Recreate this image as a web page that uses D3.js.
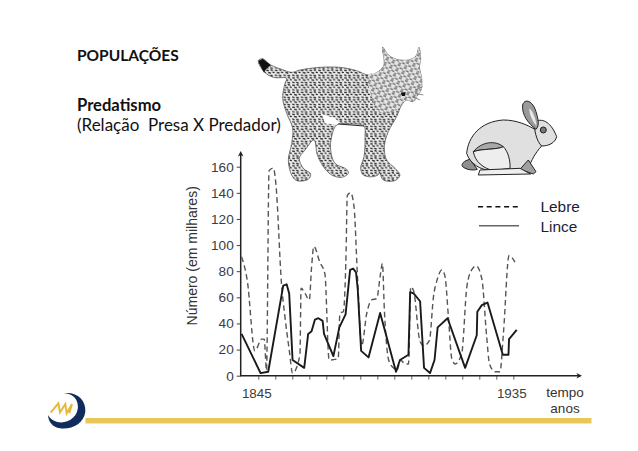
<!DOCTYPE html>
<html>
<head>
<meta charset="utf-8">
<script src="https://cdnjs.cloudflare.com/ajax/libs/d3/7.8.5/d3.min.js"></script>
<style>
  html, body { margin: 0; padding: 0; background: #fff; }
  svg { display: block; }
  .heading { font-family: Lato, "Open Sans", sans-serif; fill: #111; }
  .chart-text { font-family: "Liberation Sans", Arial, sans-serif; }
</style>
</head>
<body>
<svg class="chart" width="638" height="451"></svg>
<script>
const hareYears = [1839.1,1841.1,1843.8,1846.2,1847.1,1847.9,1848.8,1850.3,1851.2,1853.2,1854.4,1855.9,1857.1,1859.7,1860.1,1861.5,1863,1863.8,1864.6,1866.7,1868.5,1870,1873.2,1873.8,1875,1876,1876.4,1877.6,1878.8,1880,1881.5,1883.3,1885,1886.8,1888,1888.8,1889.5,1891,1892.7,1893.9,1895.2,1896.8,1898,1898.8,1899.8,1902.1,1903.5,1905.4,1906.8,1908.2,1909.8,1910.9,1912.1,1913.3,1914.5,1916.8,1918.6,1920.3,1921.9,1923.9,1925.6,1926.6,1928.6,1930.3,1931.5,1933.5,1935.6];
const hareValues = [91,73,19,28,28,4,157,159,147,70,45,20,2,16,67,63,58,83,99,87,78,12,13,48,49,96,138,140,129,76,23,48,58,59,76,86,50,12,6,4,12,9,9,68,65,26,23,27,60,74,81,76,45,13,9,17,68,81,84,74,30,9,3,3,32,92,87];

const lynxYears = [1839.1,1845.8,1848.5,1853.8,1855,1855.9,1857.1,1861.2,1862.6,1863.8,1865,1866.2,1867.7,1868.2,1871.5,1873.6,1875.8,1877.4,1878.5,1879.5,1880.1,1881.3,1883.9,1888,1893.6,1895,1898,1898.6,1899.8,1902.1,1903.5,1905.6,1907.2,1908.3,1911.8,1918,1922.1,1922.3,1923.9,1925.9,1931.3,1933.3,1933.5,1936.2];
const lynxValues = [32,2,3,69,70,63,12,6,32,34,43,44,42,32,15,37,47,81,82,79,66,19,14,48,3,12,16,64,63,57,6,2,12,37,44,6,31,49,54,56,16,16,28,35];

const yTicks = [0,20,40,60,80,100,120,140,160];
const xTicks = [1845,1851,1857,1863,1869,1875,1881,1887,1893,1899,1905,1911,1917,1923,1929,1935];
const xLabels = [1845,1935];
const legendNames = ['Lebre','Lince'];

const svg = d3.select('.chart');

const xScale = d3.scaleLinear().domain([1845,1935]).range([258.3,513.3]);
const yScale = d3.scaleLinear().domain([0,160]).range([375.7,166.7]);

const toPoints = (years, values) => years.map((y, i) => [y, values[i]]);
const hareLine = d3.line().x(d => xScale(d[0])).y(d => yScale(d[1])).curve(d3.curveMonotoneX);
const lynxLine = d3.line().x(d => xScale(d[0])).y(d => yScale(d[1]));

// headings
svg.append('text').attr('class','heading').attr('x',77).attr('y',60.5)
  .attr('font-size',15.5).attr('font-weight',700).text('POPULAÇÕES');
svg.append('text').attr('class','heading').attr('x',77).attr('y',110.5)
  .attr('font-size',16.6).attr('font-weight',700).text('Predatismo');
svg.append('text').attr('class','heading').attr('x',77).attr('y',131)
  .attr('font-size',17).style('white-space','pre').text('(Relação  Presa X Predador)');

// fur patterns for the lynx
const defs = svg.append('defs');
const fur = defs.append('pattern').attr('id','fur').attr('width',26).attr('height',22)
  .attr('patternUnits','userSpaceOnUse');
fur.append('rect').attr('width',26).attr('height',22).attr('fill','#ececec');
fur.append('path').attr('stroke','#1c1c1c').attr('stroke-width',3.8).attr('stroke-linecap','round').attr('fill','none')
  .attr('d','M2 3l5 1M15 2l4 1M8 10l5 1M21 9l3 1M2 17l4 1M14 18l5 1');
const furDense = defs.append('pattern').attr('id','furDense').attr('width',20).attr('height',17)
  .attr('patternUnits','userSpaceOnUse').attr('patternTransform','rotate(25)');
furDense.append('rect').attr('width',20).attr('height',17).attr('fill','#e4e4e4');
furDense.append('path').attr('stroke','#222').attr('stroke-width',2.6).attr('stroke-linecap','round').attr('fill','none')
  .attr('d','M1 3l7 0M11 9l7 0M2 14l5 0');

// lynx
const outline = d3.line().curve(d3.curveCatmullRomClosed.alpha(0.5));
const lynxShape = [[55,62],[68,56],[92,75],[125,88],[155,97],[180,90],[240,82],[300,82],[350,92],[385,105],[415,95],[432,75],[428,22],[445,45],[470,58],[505,60],[528,48],[537,22],[542,60],[538,80],[545,115],[543,150],[530,170],[520,185],[500,180],[485,195],[470,230],[445,275],[433,320],[440,360],[465,385],[480,405],[465,422],[430,420],[420,400],[410,380],[418,400],[400,410],[370,405],[362,385],[372,350],[375,290],[372,258],[330,252],[290,255],[275,290],[272,330],[285,370],[320,388],[325,400],[305,412],[275,405],[250,380],[232,345],[222,300],[195,330],[178,355],[190,385],[212,402],[205,418],[170,422],[155,405],[145,360],[155,310],[158,265],[140,220],[128,175],[135,130],[140,115],[100,112],[72,95]];
const lynxHead = [[385,105],[415,95],[432,75],[428,22],[445,45],[470,58],[505,60],[528,48],[537,22],[542,60],[538,80],[545,115],[543,150],[530,170],[520,185],[500,180],[485,195],[460,215],[420,215],[395,170]];
const lynx = svg.append('g').attr('transform','translate(240,40) scale(0.3333)');
lynx.append('path').attr('fill','url(#fur)').attr('stroke','#444').attr('stroke-width',2)
  .attr('d', outline(lynxShape));
lynx.append('path').attr('fill','url(#furDense)').attr('stroke','none').attr('d', outline(lynxHead));
lynx.append('path').attr('fill','#111').attr('d','M55 64 L68 56 L92 75 L78 88 L72 98 Z');
lynx.append('path').attr('fill','#fff').attr('d','M245 222 L285 235 L300 250 L285 254 L255 250 Z');
lynx.append('path').attr('fill','#111').attr('d','M482 158 L497 156 L495 168 L486 168 Z');
lynx.append('path').attr('fill','none').attr('stroke','#555').attr('stroke-width',2)
  .attr('d','M525 150 L548 140 M525 160 L550 165 M520 170 L540 180');
lynx.append('path').attr('fill','none').attr('stroke','#222').attr('stroke-width',3)
  .attr('d','M295 252 L372 258');

// rabbit
const rabbit = svg.append('g').attr('transform','translate(240,40) scale(0.3333)')
  .attr('stroke','#222').attr('stroke-width',3).attr('stroke-linejoin','round');
rabbit.append('path').attr('fill','#8f8f8f')
  .attr('d','M690 358 C672 362 662 372 668 380 C680 390 700 392 712 388 Z');
rabbit.append('path').attr('fill','#e0e0e0')
  .attr('d','M680 340 C685 290 720 245 790 240 C830 240 862 255 885 268 L905 318 C885 340 875 360 865 385 L760 392 C720 392 690 370 680 340 Z');
rabbit.append('path').attr('fill','#a8a8a8')
  .attr('d','M700 335 C725 305 765 300 790 320 C770 330 730 325 700 335 Z');
rabbit.append('path').attr('fill','#eee')
  .attr('d','M700 335 C730 325 770 330 790 320 C805 335 812 365 810 385 L760 392 C730 385 705 365 700 335 Z');
rabbit.append('path').attr('fill','#a0a0a0')
  .attr('d','M865 360 L888 395 L880 402 L840 388 Z');
rabbit.append('path').attr('fill','#efefef')
  .attr('d','M720 390 L840 385 L872 402 L715 405 Z');
rabbit.append('path').attr('fill','#e0e0e0')
  .attr('d','M885 245 C910 232 935 250 950 290 C945 310 925 318 905 318 C890 305 880 265 885 245 Z');
rabbit.append('path').attr('fill','#9a9a9a')
  .attr('d','M848 195 C855 172 880 185 888 215 C894 235 900 255 888 268 C865 250 845 225 848 195 Z');
rabbit.append('path').attr('fill','#e8e8e8').attr('stroke','none')
  .attr('d','M868 205 C880 215 888 240 890 258 C878 245 868 225 868 205 Z');
rabbit.append('circle').attr('cx',910).attr('cy',270).attr('r',9).attr('fill','#777');

// axes
const yAxis = d3.axisLeft(yScale).tickValues(yTicks).tickSize(4).tickPadding(3).tickSizeOuter(0);
const xAxis = d3.axisBottom(xScale).tickValues(xTicks).tickSize(4).tickPadding(9).tickSizeOuter(0)
  .tickFormat(d => xLabels.includes(d) ? d : '');

const gy = svg.append('g').attr('class','chart-text').attr('transform','translate(240.7,0)').call(yAxis);
const gx = svg.append('g').attr('class','chart-text').attr('transform','translate(0,375.7)').call(xAxis);
gy.select('.domain').remove();
gx.select('.domain').remove();
gy.selectAll('.tick line').attr('stroke','#444');
gx.selectAll('.tick line').attr('stroke','#666');
gy.selectAll('.tick text').attr('font-size',13.6).attr('fill','#3c3c3c');
gx.selectAll('.tick text').attr('font-size',13.4).attr('fill','#3c3c3c').attr('dx',-2);

svg.append('path').attr('fill','none').attr('stroke','#222').attr('stroke-width',1.5)
  .attr('d','M240.7 153 V375.7 H580');
svg.append('path').attr('fill','#222').attr('d','M240.7 151 l-2.8 5.5 l2.8 -1.5 l2.8 1.5 Z');
svg.append('path').attr('fill','#222').attr('d','M582 375.7 l-5.5 -2.8 l1.5 2.8 l-1.5 2.8 Z');

// series
svg.append('path').datum(toPoints(hareYears, hareValues))
  .attr('fill','none').attr('stroke','#555').attr('stroke-width',1.4).attr('stroke-dasharray','5.5 3.5')
  .attr('d', hareLine);
svg.append('path').datum(toPoints(lynxYears, lynxValues))
  .attr('fill','none').attr('stroke','#1a1a1a').attr('stroke-width',1.9).attr('stroke-linejoin','round')
  .attr('d', lynxLine);

// legend
svg.append('line').attr('x1',478).attr('x2',520).attr('y1',206.7).attr('y2',206.7)
  .attr('stroke','#111').attr('stroke-width',1.5).attr('stroke-dasharray','5 3.7');
svg.append('line').attr('x1',479).attr('x2',519).attr('y1',225.7).attr('y2',225.7)
  .attr('stroke','#666').attr('stroke-width',1.4);
svg.selectAll('.legend-label').data(legendNames).enter().append('text')
  .attr('class','legend-label chart-text')
  .attr('x',540.5).attr('y',(d, i) => 212 + i * 19.5)
  .attr('font-size',15.4).attr('fill','#1c1c38').text(d => d);

// axis titles
svg.append('text').attr('class','chart-text')
  .attr('transform','translate(196.5,255.8) rotate(-90)').attr('text-anchor','middle')
  .attr('font-size',14).attr('fill','#333').text('Número (em milhares)');
svg.append('text').attr('class','chart-text').attr('x',565).attr('y',396.5).attr('text-anchor','middle')
  .attr('font-size',13.5).attr('fill','#333').text('tempo');
svg.append('text').attr('class','chart-text').attr('x',565).attr('y',412.5).attr('text-anchor','middle')
  .attr('font-size',13.5).attr('fill','#333').text('anos');

// logo and footer bar
const logo = svg.append('g').attr('transform','translate(30,380) scale(0.3333)');
logo.append('path').attr('fill','#0f2c5c')
  .attr('d','M100 40 C140 34 168 60 166 95 C162 130 125 150 90 145 C68 142 55 125 54 105 C65 125 90 132 112 124 C140 112 150 85 140 62 C132 46 118 40 100 40 Z');
logo.append('path').attr('fill','none').attr('stroke','#e6b93c').attr('stroke-width',6)
  .attr('d','M62 98 L85 70 L90 97 L106 72 L110 100 L126 72 L118 100');
svg.append('rect').attr('x',85.5).attr('y',418).attr('width',506).attr('height',5.5).attr('fill','#e8c75a');
</script>
</body>
</html>
